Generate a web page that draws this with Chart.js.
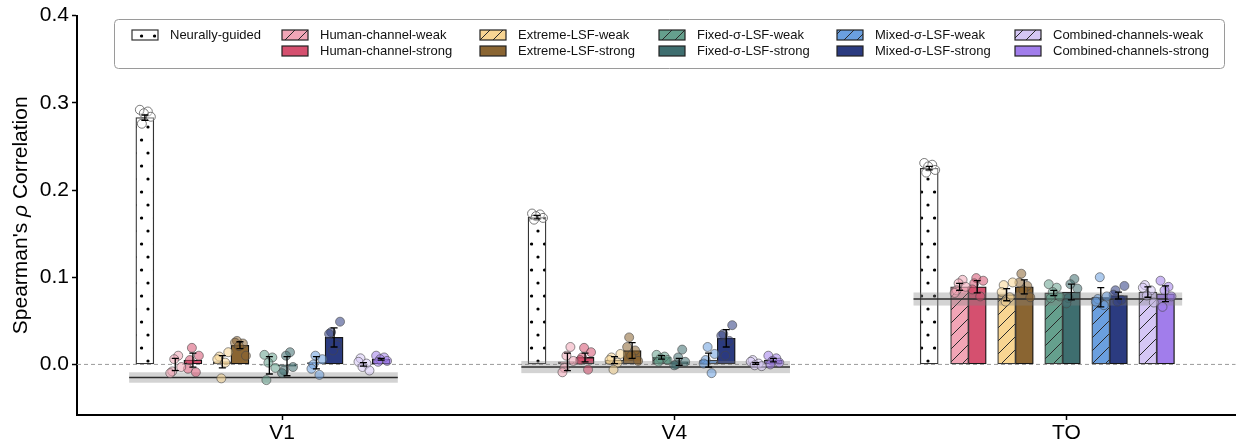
<!DOCTYPE html>
<html>
<head>
<meta charset="utf-8">
<script src="https://cdn.jsdelivr.net/npm/chart.js@4.4.1/dist/chart.umd.min.js"></script>
<style>
  html, body { margin: 0; padding: 0; background: #fff; }
  #wrap { width: 1241px; height: 448px; position: relative; }
</style>
</head>
<body>
<div id="wrap"><canvas id="corr_chart"></canvas></div>
<script>
const regions = ["V1", "V4", "TO"];

const seriesNames = [
  "Neurally-guided",
  "Human-channel-weak", "Human-channel-strong",
  "Extreme-LSF-weak", "Extreme-LSF-strong",
  "Fixed-\u03c3-LSF-weak", "Fixed-\u03c3-LSF-strong",
  "Mixed-\u03c3-LSF-weak", "Mixed-\u03c3-LSF-strong",
  "Combined-channels-weak", "Combined-channels-strong",
];

const seriesColors = [
  "#ffffff",
  "#f1a5b6", "#d5506f",
  "#f8d592", "#8a6532",
  "#65a08d", "#3e6e6f",
  "#6a9fdf", "#2b3b80",
  "#d5c6f5", "#a17deb",
];

// bar heights per series: [V1, V4, TO]
const barMeans = [
  [0.283, 0.169, 0.225],
  [0.000, 0.003, 0.089], [0.005, 0.008, 0.089],
  [0.003, 0.005, 0.080], [0.022, 0.016, 0.089],
  [-0.001, 0.008, 0.082], [-0.002, 0.003, 0.083],
  [0.002, 0.005, 0.077], [0.031, 0.030, 0.079],
  [0.000, 0.001, 0.083], [0.006, 0.005, 0.081],
];

const barErrors = [
  [0.003, 0.002, 0.002],
  [0.007, 0.010, 0.004], [0.008, 0.005, 0.007],
  [0.007, 0.004, 0.007], [0.004, 0.009, 0.008],
  [0.010, 0.002, 0.003], [0.011, 0.004, 0.009],
  [0.007, 0.008, 0.011], [0.011, 0.010, 0.004],
  [0.002, 0.001, 0.006], [0.001, 0.002, 0.009],
];

// grey baseline band per region
const baselineMeans = [-0.015, -0.003, 0.075];
const baselineErrors = [0.006, 0.007, 0.0075];

// individual runs, one list per series
const v1Points = [
  [0.292, 0.290, 0.288, 0.284, 0.276],
  [0.010, 0.006, -0.003, -0.008, -0.010], [0.019, 0.010, 0.005, -0.005, -0.009],
  [0.014, 0.009, 0.006, 0.002, -0.016], [0.027, 0.025, 0.024, 0.021, 0.010],
  [0.011, 0.008, 0.002, -0.004, -0.018], [0.014, 0.010, -0.003, -0.007, -0.010],
  [0.010, 0.006, 0.000, -0.005, -0.012], [0.049, 0.037, 0.035, 0.022, 0.016],
  [0.007, 0.003, 0.001, -0.003, -0.007], [0.010, 0.008, 0.006, 0.004, 0.003],
];
const v4Points = [
  [0.173, 0.172, 0.170, 0.168, 0.166],
  [0.020, 0.010, 0.004, -0.004, -0.009], [0.019, 0.014, 0.008, 0.005, -0.006],
  [0.012, 0.008, 0.005, 0.002, -0.006], [0.031, 0.020, 0.016, 0.010, 0.004],
  [0.011, 0.009, 0.007, 0.005, 0.003], [0.017, 0.008, 0.003, 0.000, -0.001],
  [0.020, 0.012, 0.005, 0.001, -0.010], [0.045, 0.035, 0.033, 0.027, 0.010],
  [0.005, 0.003, 0.001, -0.001, -0.002], [0.010, 0.007, 0.004, 0.002, 0.000],
];
const toPoints = [
  [0.231, 0.229, 0.227, 0.223, 0.220],
  [0.097, 0.093, 0.089, 0.085, 0.082], [0.099, 0.096, 0.093, 0.086, 0.078],
  [0.094, 0.091, 0.083, 0.077, 0.072], [0.104, 0.094, 0.090, 0.085, 0.077],
  [0.092, 0.088, 0.083, 0.078, 0.076], [0.098, 0.092, 0.087, 0.076, 0.070],
  [0.100, 0.078, 0.075, 0.072, 0.068], [0.090, 0.085, 0.080, 0.074, 0.072],
  [0.091, 0.088, 0.085, 0.079, 0.071], [0.096, 0.089, 0.085, 0.078, 0.066],
];

const yTicks = [0.0, 0.1, 0.2, 0.3, 0.4];

const pointsByRegion = [v1Points, v4Points, toPoints];

// layout
const FONT = '"Liberation Sans", Arial, sans-serif';
const PX_PER_UNIT = 394;
const jitterPx = [-5, 3, -1, 6, -3];

function barOffset(s) {
  if (s === 0) return -0.35;
  const k = Math.floor((s - 1) / 2);
  const strong = (s - 1) % 2 === 1;
  return -0.25 + 0.12 * k + (strong ? 0.0225 : -0.0225);
}

function rgba(hex, a) {
  const n = parseInt(hex.slice(1), 16);
  return `rgba(${(n >> 16) & 255}, ${(n >> 8) & 255}, ${n & 255}, ${a})`;
}

function makeHatch(color) {
  const c = document.createElement("canvas");
  c.width = 13;
  c.height = 13;
  const g = c.getContext("2d");
  g.fillStyle = color;
  g.fillRect(0, 0, 13, 13);
  g.strokeStyle = "#2a2a2a";
  g.lineWidth = 1;
  g.beginPath();
  g.moveTo(-1, 14); g.lineTo(14, -1);
  g.moveTo(-1, 1); g.lineTo(1, -1);
  g.moveTo(12, 14); g.lineTo(14, 12);
  g.stroke();
  return g.createPattern(c, "repeat");
}

function makeDots() {
  const c = document.createElement("canvas");
  c.width = 13;
  c.height = 26;
  const g = c.getContext("2d");
  g.fillStyle = "#fff";
  g.fillRect(0, 0, 13, 26);
  g.fillStyle = "#000";
  [[11.5, 10], [-1.5, 10], [5, 23]].forEach(([x, y]) => {
    g.beginPath();
    g.arc(x, y, 1.6, 0, Math.PI * 2);
    g.fill();
  });
  return g.createPattern(c, "repeat");
}

const barFills = seriesColors.map((col, s) => {
  if (s === 0) return makeDots();
  return (s - 1) % 2 === 0 ? makeHatch(col) : col;
});

const barDatasets = seriesNames.map((name, s) => ({
  type: "bar",
  label: name,
  data: regions.map((_, r) => ({ x: r + barOffset(s), y: barMeans[s][r] })),
  backgroundColor: barFills[s],
  borderColor: s === 0 ? "#333" : (s % 2 === 1 ? "#3a3a3a" : "#151515"),
  borderWidth: 1.3,
  borderSkipped: false,
  grouped: false,
  barThickness: 18,
  order: 2,
}));

const pointDatasets = seriesNames.map((name, s) => ({
  type: "scatter",
  label: name + " runs",
  data: regions.flatMap((_, r) =>
    pointsByRegion[r][s].map((v, k) => ({
      x: r + barOffset(s) + jitterPx[(k + s) % 5] / PX_PER_UNIT,
      y: v,
    }))
  ),
  pointRadius: 4.5,
  pointBackgroundColor: s === 0 ? "rgba(255,255,255,0.35)" : rgba(seriesColors[s], 0.55),
  pointBorderColor: s === 0 ? "rgba(90,90,90,0.8)" : "rgba(70,70,70,0.6)",
  pointBorderWidth: 1,
  order: 1,
}));

// dashed zero line behind the bars
const zeroLine = {
  id: "zeroLine",
  beforeDatasetsDraw(chart) {
    const { ctx, chartArea, scales } = chart;
    const y = scales.y.getPixelForValue(0);
    ctx.save();
    ctx.strokeStyle = "#9a9a9a";
    ctx.lineWidth = 1;
    ctx.setLineDash([4, 3]);
    ctx.beginPath();
    ctx.moveTo(chartArea.left, y);
    ctx.lineTo(chartArea.right, y);
    ctx.stroke();
    ctx.restore();
  },
};

// grey baseline bands, drawn after the last bar dataset, before the points
const baselineBands = {
  id: "baselineBands",
  afterDatasetDraw(chart, args) {
    if (args.index !== 0) return;
    const { ctx, scales } = chart;
    ctx.save();
    regions.forEach((_, r) => {
      const x1 = scales.x.getPixelForValue(r - 0.39);
      const x2 = scales.x.getPixelForValue(r + 0.295);
      const yTop = scales.y.getPixelForValue(baselineMeans[r] + baselineErrors[r]);
      const yBot = scales.y.getPixelForValue(baselineMeans[r] - baselineErrors[r]);
      const yMid = scales.y.getPixelForValue(baselineMeans[r]);
      ctx.fillStyle = "rgba(128,128,128,0.35)";
      ctx.fillRect(x1, yTop, x2 - x1, yBot - yTop);
      ctx.strokeStyle = "#2b2b2b";
      ctx.lineWidth = 1.5;
      ctx.beginPath();
      ctx.moveTo(x1, yMid);
      ctx.lineTo(x2, yMid);
      ctx.stroke();
    });
    ctx.restore();
  },
};

const errorBars = {
  id: "errorBars",
  afterDatasetsDraw(chart) {
    const { ctx, scales } = chart;
    ctx.save();
    ctx.strokeStyle = "#000";
    ctx.lineWidth = 1.3;
    seriesNames.forEach((_, s) => {
      regions.forEach((_, r) => {
        const x = scales.x.getPixelForValue(r + barOffset(s));
        const yHi = scales.y.getPixelForValue(barMeans[s][r] + barErrors[s][r]);
        const yLo = scales.y.getPixelForValue(barMeans[s][r] - barErrors[s][r]);
        ctx.beginPath();
        ctx.moveTo(x, yHi); ctx.lineTo(x, yLo);
        ctx.moveTo(x - 3.5, yHi); ctx.lineTo(x + 3.5, yHi);
        ctx.moveTo(x - 3.5, yLo); ctx.lineTo(x + 3.5, yLo);
        ctx.stroke();
      });
    });
    ctx.restore();
  },
};

const legendCols = [132, 282, 480, 659, 837, 1015];
const legendRows = [35, 51];

const boxLegend = {
  id: "boxLegend",
  afterDraw(chart) {
    const ctx = chart.ctx;
    ctx.save();
    ctx.beginPath();
    ctx.roundRect(114.5, 19.5, 1110, 49, 4);
    ctx.fillStyle = "rgba(255,255,255,0.9)";
    ctx.fill();
    ctx.strokeStyle = "#9a9a9a";
    ctx.lineWidth = 1;
    ctx.stroke();
    ctx.font = "13px " + FONT;
    ctx.textBaseline = "middle";
    ctx.textAlign = "left";
    seriesNames.forEach((name, s) => {
      const col = s === 0 ? 0 : Math.ceil(s / 2);
      const row = s === 0 ? 0 : (s % 2 === 1 ? 0 : 1);
      const x = legendCols[col];
      const y = legendRows[row];
      ctx.fillStyle = barFills[s];
      ctx.fillRect(x, y - 5, 26, 10);
      ctx.strokeStyle = s === 0 ? "#333" : "#222";
      ctx.lineWidth = 1.2;
      ctx.strokeRect(x, y - 5, 26, 10);
      ctx.fillStyle = "#111";
      ctx.fillText(name, x + 38, y + 0.5);
    });
    ctx.restore();
  },
};

const yTitle = {
  id: "yTitle",
  afterDraw(chart) {
    const ctx = chart.ctx;
    const parts = [
      ["Spearman's ", "21px " + FONT],
      ["\u03c1", "italic 21px " + FONT],
      [" Correlation", "21px " + FONT],
    ];
    let total = 0;
    parts.forEach(([t, f]) => { ctx.font = f; total += ctx.measureText(t).width; });
    const area = chart.chartArea;
    ctx.save();
    ctx.translate(27, (area.top + area.bottom) / 2);
    ctx.rotate(-Math.PI / 2);
    ctx.fillStyle = "#000";
    ctx.textBaseline = "alphabetic";
    ctx.textAlign = "left";
    let x = -total / 2;
    parts.forEach(([t, f]) => {
      ctx.font = f;
      ctx.fillText(t, x, 0);
      x += ctx.measureText(t).width;
    });
    ctx.restore();
  },
};

const corr_chart = new Chart(document.getElementById("corr_chart"), {
  type: "bar",
  data: { datasets: [...barDatasets, ...pointDatasets] },
  plugins: [zeroLine, baselineBands, errorBars, boxLegend, yTitle],
  options: {
    responsive: true,
    maintainAspectRatio: false,
    animation: false,
    events: [],
    layout: { padding: { top: 12, right: 0, bottom: 0, left: 0 } },
    plugins: {
      legend: { display: false },
      tooltip: { enabled: false },
    },
    scales: {
      x: {
        type: "linear",
        offset: false,
        min: -0.523,
        max: 2.431,
        afterBuildTicks: (scale) => {
          scale.ticks = regions.map((_, i) => ({ value: i }));
        },
        afterFit: (scale) => { scale.height = 33; },
        ticks: {
          callback: (v) => regions[v],
          color: "#000",
          font: { size: 21, family: FONT },
          padding: 1,
          maxRotation: 0,
          autoSkip: false,
        },
        grid: {
          offset: false,
          drawOnChartArea: false,
          drawTicks: true,
          tickLength: 5,
          tickWidth: 1.5,
          tickColor: "#000",
        },
        border: { display: true, color: "#000", width: 2 },
      },
      y: {
        type: "linear",
        min: -0.058,
        max: 0.4,
        afterBuildTicks: (scale) => {
          scale.ticks = yTicks.map((v) => ({ value: v }));
        },
        afterFit: (scale) => { scale.width = 77; },
        ticks: {
          callback: (v) => v.toFixed(1),
          color: "#000",
          font: { size: 21, family: FONT },
          padding: 3,
        },
        grid: {
          drawOnChartArea: false,
          drawTicks: true,
          tickLength: 5,
          tickWidth: 1.5,
          tickColor: "#000",
        },
        border: { display: true, color: "#000", width: 2 },
      },
    },
  },
});
</script>
</body>
</html>
